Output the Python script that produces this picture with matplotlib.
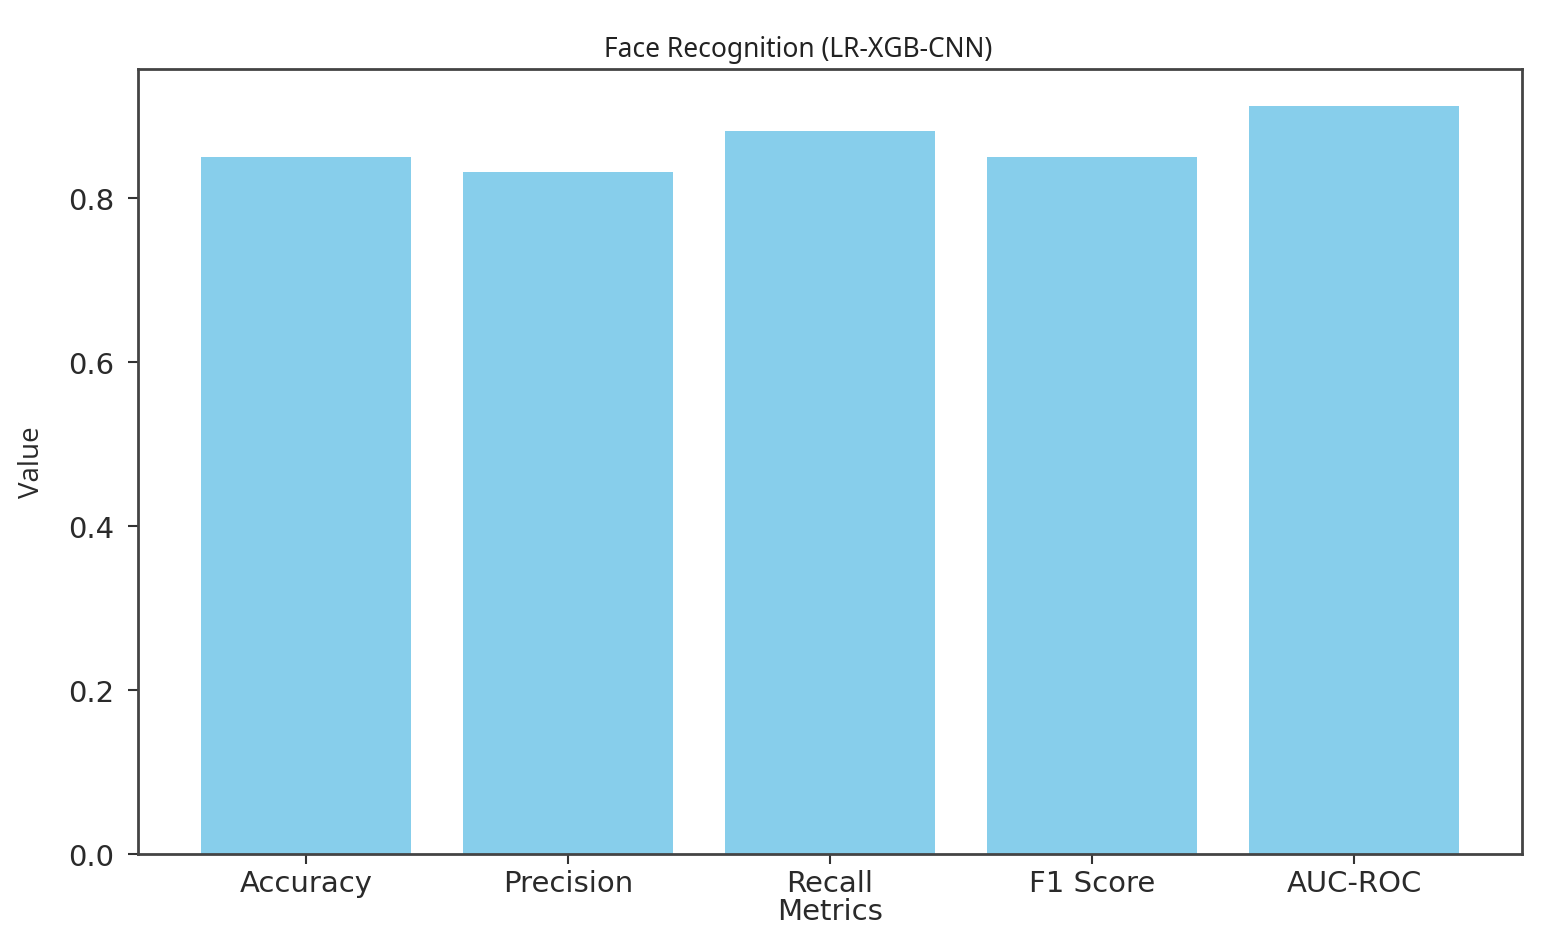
import matplotlib
matplotlib.use("Agg")
import matplotlib.pyplot as plt

# Metric values
metrics = ['Accuracy', 'Precision', 'Recall', 'F1 Score', 'AUC-ROC']
values = [0.85, 0.832, 0.882, 0.85, 0.912]
y_ticks = [0.0, 0.2, 0.4, 0.6, 0.8]

plt.rcParams['font.family'] = 'DejaVu Sans'

fig = plt.figure(figsize=(15.53, 9.37), dpi=100)
axis = fig.add_axes([0.0889, 0.0875, 0.8912, 0.8378])

axis.bar(metrics, values, color='skyblue', width=0.8)

axis.set_yticks(y_ticks)
axis.set_yticklabels(['{:.1f}'.format(t) for t in y_ticks])
axis.tick_params(axis='both', labelsize=21, length=7, width=1.5,
                 colors='#333333', labelcolor='#2a2a2a')
axis.tick_params(axis='y', pad=10)
axis.tick_params(axis='x', pad=4)
for spine in axis.spines.values():
    spine.set_linewidth(2)
    spine.set_color('#444444')

axis.set_xlabel('Metrics', fontsize=21, color='#2a2a2a', labelpad=0)
axis.set_ylabel('Value', fontsize=20, family='Open Sans', color='#2a2a2a',
                labelpad=16)
# the title sits a little left of the axes centre in the original
axis.set_title('Face Recognition (LR-XGB-CNN)', fontsize=19, x=0.477,
               family='Noto Sans', color='#222222', pad=9)

fig.savefig('out.png', dpi=100)
